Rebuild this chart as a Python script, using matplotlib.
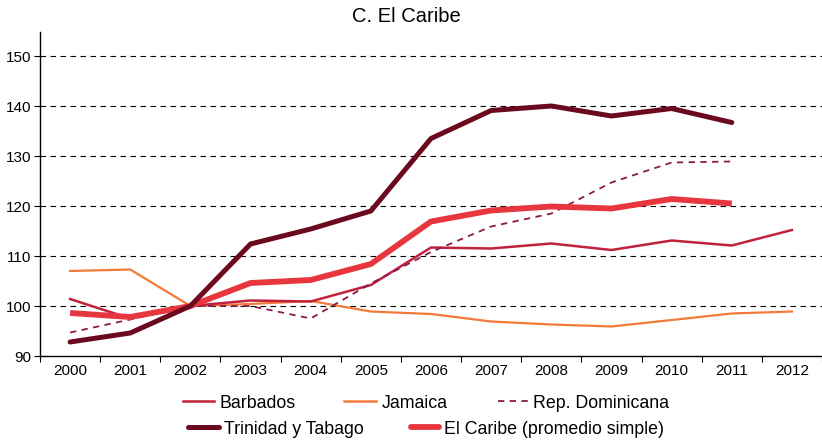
import matplotlib
matplotlib.use("Agg")
import matplotlib.pyplot as plt
from matplotlib.lines import Line2D

plt.rcParams['font.family'] = ['Liberation Sans', 'DejaVu Sans']

years = ['2000', '2001', '2002', '2003', '2004', '2005', '2006',
         '2007', '2008', '2009', '2010', '2011', '2012']

barbados = [101.4, 97.5, 100.0, 101.1, 100.9, 104.2, 111.7, 111.5, 112.5, 111.2, 113.1, 112.1, 115.2]
jamaica = [107.0, 107.3, 100.0, 100.4, 101.0, 98.9, 98.4, 96.9, 96.3, 95.9, 97.2, 98.5, 98.9]
rep_dom = [94.7, 97.3, 100.0, 100.0, 97.5, 104.5, 110.8, 115.9, 118.5, 124.7, 128.7, 128.9, None]
trinidad = [92.8, 94.6, 100.0, 112.4, 115.4, 119.0, 133.5, 139.1, 140.0, 138.0, 139.5, 136.7, None]
caribe = [98.6, 97.8, 100.0, 104.6, 105.2, 108.4, 116.9, 119.1, 119.9, 119.5, 121.4, 120.5, None]

yticks = [90, 100, 110, 120, 130, 140, 150]

c_barb = '#C0223B'
c_jam = '#F47A3A'
c_rd = '#8B1A4A'
c_tt = '#6B0A1E'
c_car = '#E8363F'

W, H = 822, 440
fig = plt.figure(figsize=(W / 100, H / 100), dpi=100)
ax = fig.add_axes([40 / W, (H - 356) / H, (822 - 40) / W, (356 - 32) / H])

x = list(range(len(years)))

def clean(vals):
    xs = [i for i, v in zip(x, vals) if v is not None]
    ys = [v for v in vals if v is not None]
    return xs, ys

for yv in yticks[1:]:
    ax.axhline(yv, color='black', lw=0.8, ls=(0, (5, 4)), zorder=1)

ax.plot(*clean(jamaica), color=c_jam, lw=1.6, zorder=3)
ax.plot(*clean(barbados), color=c_barb, lw=1.8, zorder=3)
ax.plot(*clean(rep_dom), color=c_rd, lw=1.3, ls=(0, (3.5, 3)), zorder=3)
ax.plot(*clean(caribe), color=c_car, lw=4.2, zorder=4, solid_capstyle='butt')
ax.plot(*clean(trinidad), color=c_tt, lw=3.6, zorder=5, solid_capstyle='round')

ax.set_xlim(-0.496, (822 - 70) / 60.5)
ax.set_ylim(90, 90 + (356 - 32) / 5)
ax.set_yticks(yticks)
ax.set_yticklabels([str(v) for v in yticks])
ax.set_xticks(x)
ax.set_xticklabels(years)
ax.set_xticks([i - 0.5 for i in range(len(years) + 1)], minor=True)
ax.tick_params(axis='x', which='major', length=0, labelsize=11, pad=6)
ax.tick_params(axis='x', which='minor', length=4, width=0.8, direction='out')
ax.tick_params(axis='y', length=4, width=0.8, labelsize=11, pad=2)
for s in ['top', 'right']:
    ax.spines[s].set_visible(False)
for s in ['left', 'bottom']:
    ax.spines[s].set_linewidth(1.0)

fig.text(406 / W, 1 - 22 / H, 'C. El Caribe', fontsize=14.5, ha='center', va='baseline')

fs = 12.8
fpx = fs * 100 / 72
entries = [
    ('Barbados', Line2D([], [], color=c_barb, lw=1.8), 183, 403, 31),
    ('Jamaica', Line2D([], [], color=c_jam, lw=1.8), 344, 403, 32),
    ('Rep. Dominicana', Line2D([], [], color=c_rd, lw=1.3, ls=(0, (3.5, 3))), 498, 403, 30),
    ('Trinidad y Tabago', Line2D([], [], color=c_tt, lw=3.6, solid_capstyle='round'), 188, 429, 31),
    ('El Caribe (promedio simple)', Line2D([], [], color=c_car, lw=4.2, solid_capstyle='round'), 411, 429, 28),
]
for label, h, px, py, hl in entries:
    fig.legend([h], [label], loc='center left', bbox_to_anchor=(px / W, 1 - py / H),
               frameon=False, fontsize=fs, handlelength=hl / fpx, handletextpad=0.3,
               borderpad=0, borderaxespad=0)

fig.savefig('out.png', dpi=100)
